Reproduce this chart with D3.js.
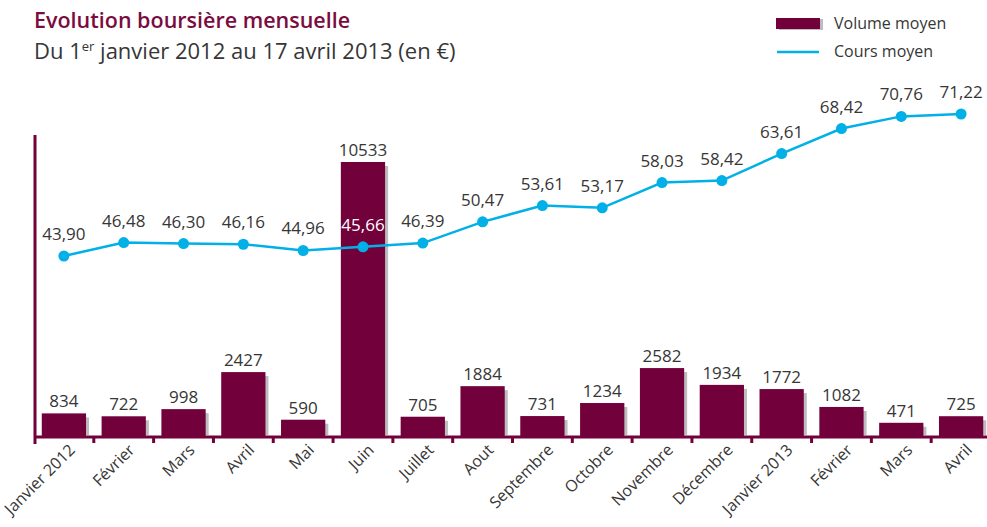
<!DOCTYPE html>
<html>
<head>
<meta charset="utf-8">
<script src="https://cdn.jsdelivr.net/npm/d3@7"></script>
<style>
  body { margin: 0; background: #fff; }
  text { font-family: "Open Sans", "Noto Sans", sans-serif; }
</style>
</head>
<body>
<svg id="chart" width="987" height="527"></svg>
<script>
// ── data ──
const months = ["Janvier 2012", "Février", "Mars", "Avril", "Mai", "Juin", "Juillet", "Aout",
  "Septembre", "Octobre", "Novembre", "Décembre", "Janvier 2013", "Février ", "Mars ", "Avril "];
const volume = [834, 722, 998, 2427, 590, 10533, 705, 1884, 731, 1234, 2582, 1934, 1772, 1082, 471, 725];
const cours = [43.90, 46.48, 46.30, 46.16, 44.96, 45.66, 46.39, 50.47, 53.61, 53.17, 58.03, 58.42, 63.61, 68.42, 70.76, 71.22];

const wine = "#72003a";
const blue = "#00b0e6";
const ink = "#363636";
const fmt = v => v.toFixed(2).replace(".", ",");

const svg = d3.select("#chart");

// ── scales ──
const x = d3.scaleBand().domain(months).range([34, 991]).paddingInner(0.26).paddingOuter(0.13);
const yBar = d3.scaleLinear().domain([0, 10533]).range([435, 162]);
const yLine = d3.scaleLinear().domain([43.90, 71.22]).range([256, 114]);
const cx = d => x(d) + x.bandwidth() / 2;
const step = x.step();

// ── bars (with grey shadow) ──
svg.append("g").selectAll("rect")
  .data(months)
  .join("rect")
  .attr("x", d => x(d) + 3)
  .attr("y", (d, i) => yBar(volume[i]) + 4)
  .attr("width", x.bandwidth())
  .attr("height", (d, i) => 435 - yBar(volume[i]) - 4)
  .attr("fill", "#bdbdc0");

svg.append("g").selectAll("rect")
  .data(months)
  .join("rect")
  .attr("x", d => x(d))
  .attr("y", (d, i) => yBar(volume[i]))
  .attr("width", x.bandwidth())
  .attr("height", (d, i) => 436 - yBar(volume[i]))
  .attr("fill", wine);

svg.append("g").selectAll("text")
  .data(months)
  .join("text")
  .attr("x", d => cx(d))
  .attr("y", (d, i) => yBar(volume[i]) - 6)
  .attr("text-anchor", "middle")
  .attr("font-size", "17px")
  .attr("fill", ink)
  .text((d, i) => volume[i]);

// ── axes ──
svg.append("line")
  .attr("x1", 35).attr("x2", 35).attr("y1", 135).attr("y2", 444)
  .attr("stroke", wine).attr("stroke-width", 3);

svg.append("line")
  .attr("x1", 34).attr("x2", 987).attr("y1", 437).attr("y2", 437)
  .attr("stroke", wine).attr("stroke-width", 3);

svg.append("g").selectAll("line")
  .data(d3.range(months.length + 1).slice(1, 16))
  .join("line")
  .attr("x1", i => 34 + i * step)
  .attr("x2", i => 34 + i * step)
  .attr("y1", 437).attr("y2", 443)
  .attr("stroke", wine).attr("stroke-width", 3);

svg.append("g").selectAll("text")
  .data(months)
  .join("text")
  .attr("transform", d => `translate(${cx(d) + 12},${451}) rotate(-45)`)
  .attr("text-anchor", "end")
  .attr("font-size", "16px")
  .attr("fill", ink)
  .text(d => d.trim());

// ── line ──
const line = d3.line().x(d => cx(d[0])).y(d => yLine(d[1]));
svg.append("path")
  .datum(months.map((m, i) => [m, cours[i]]))
  .attr("d", line)
  .attr("fill", "none")
  .attr("stroke", blue)
  .attr("stroke-width", 2.5);

svg.append("g").selectAll("circle")
  .data(months)
  .join("circle")
  .attr("cx", d => cx(d))
  .attr("cy", (d, i) => yLine(cours[i]))
  .attr("r", 5.5)
  .attr("fill", blue);

svg.append("g").selectAll("text")
  .data(months)
  .join("text")
  .attr("x", d => cx(d))
  .attr("y", (d, i) => yLine(cours[i]) - 16)
  .attr("text-anchor", "middle")
  .attr("font-size", "17px")
  .attr("fill", (d, i) => i === 5 ? "#fff" : ink)
  .text((d, i) => fmt(cours[i]));

// ── title ──
svg.append("text")
  .attr("x", 34).attr("y", 28)
  .attr("font-size", "21.5px")
  .style("font-weight", "600")
  .attr("fill", "#7a0c40")
  .text("Evolution boursière mensuelle");

const sub = svg.append("text")
  .attr("x", 34).attr("y", 59)
  .attr("font-size", "22px")
  .attr("fill", ink);
sub.append("tspan").text("Du 1");
sub.append("tspan").attr("dy", -8).attr("font-size", "13px").text("er");
sub.append("tspan").attr("dy", 8).text(" janvier 2012 au 17 avril 2013 (en €)");

// ── legend ──
const legend = svg.append("g");
legend.append("rect").attr("x", 779).attr("y", 19).attr("width", 44).attr("height", 11).attr("fill", "#bdbdc0");
legend.append("rect").attr("x", 776).attr("y", 18).attr("width", 44).attr("height", 11).attr("fill", wine);
legend.append("text").attr("x", 834).attr("y", 29).attr("font-size", "16px").attr("fill", ink).text("Volume moyen");
legend.append("line").attr("x1", 777).attr("x2", 819).attr("y1", 52).attr("y2", 52)
  .attr("stroke", blue).attr("stroke-width", 2.5);
legend.append("text").attr("x", 834).attr("y", 57).attr("font-size", "16px").attr("fill", ink).text("Cours moyen");
</script>
</body>
</html>
